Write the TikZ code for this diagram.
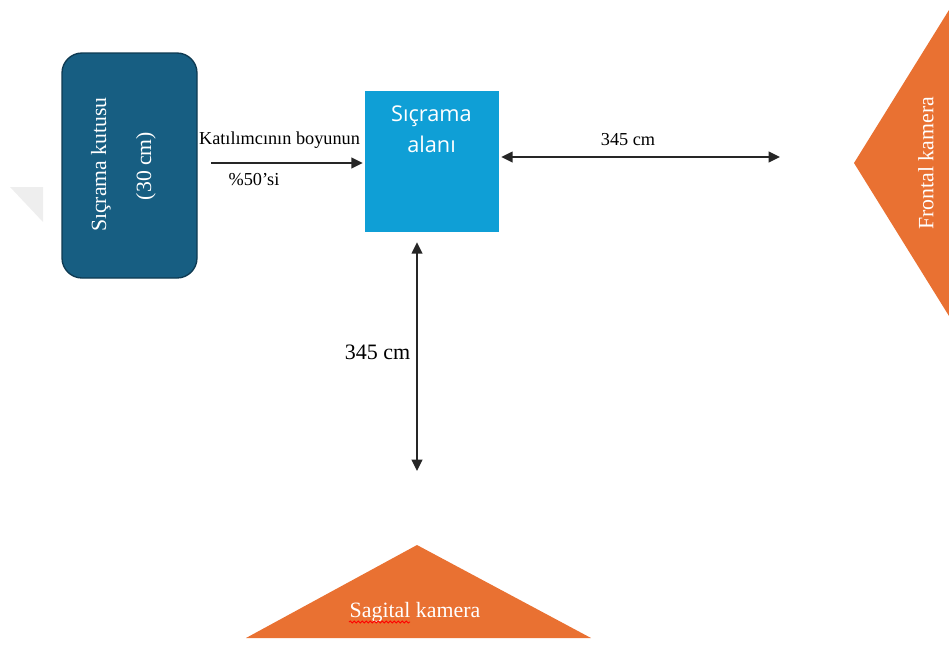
\documentclass[tikz,border=0pt]{standalone}
\usepackage{fontspec}
\setmainfont{Liberation Serif}
\newfontfamily\sansf{Open Sans}
\usetikzlibrary{arrows.meta,calc,decorations.pathmorphing}
\definecolor{boxdark}{HTML}{175E82}
\definecolor{boxedge}{HTML}{0E3A52}
\definecolor{areablue}{HTML}{0F9FD6}
\definecolor{camorange}{HTML}{E97132}
\definecolor{wmgrey}{HTML}{EEEEEE}
\begin{document}
\begin{tikzpicture}[x=0.75pt,y=-0.75pt,
  lbl/.style={font=\fontsize{13.7}{16}\selectfont, inner sep=0pt},
  tip/.style={Triangle[length=8.5pt,width=8pt]},
  dim/.style={draw=black!85, line width=1.2pt, -{Triangle[length=8.5pt,width=8pt]}},
  ddim/.style={draw=black!85, line width=1.2pt, {Triangle[length=8.5pt,width=8pt]}-{Triangle[length=8.5pt,width=8pt]}},
  camtext/.style={text=white, font=\fontsize{16.4}{19}\selectfont, inner sep=0pt},
  boxtext/.style={text=white, font=\fontsize{16.3}{19}\selectfont, inner sep=0pt, rotate=90}]
\useasboundingbox (0,0) rectangle (949,644);
% faint watermark
\fill[wmgrey] (10,187) -- (43,187) -- (43,222) -- cycle;
% jump box
\node[draw=boxedge, line width=1pt, fill=boxdark, rounded corners=15pt,
  minimum width=101.25pt, minimum height=168.75pt, inner sep=0pt] (box) at (129.5,165.5) {};
\node[boxtext] (boxt1) at (101,164.5) {Sıçrama kutusu};
\node[boxtext] (boxt2) at (146,166) {(30 cm)};
% jump area
\node[fill=areablue, minimum width=100.5pt, minimum height=105.75pt, inner sep=0pt] (sq) at (432,161.5) {};
\node[text=white, font=\sansf\fontsize{16.3}{23.5}\selectfont, align=center, inner sep=0pt] (sqt) at (431.5,129.5) {Sıçrama\\alanı};
% arrow from box to area
\coordinate (aS) at (211,163);
\draw[dim] (aS) -- ($(sq.west|-aS)+(-2,0)$);
\node[lbl] (k1) at (279.5,140) {Katılımcının boyunun};
\node[lbl] (k2) at (254,180) {\%50’si};
% horizontal dimension
\coordinate (hR) at (780,157);
\draw[ddim] ($(sq.east|-hR)+(2,0)$) -- (hR);
\node[lbl] (h) at (628,140) {345 cm};
% vertical dimension
\coordinate (vB) at (417,471);
\draw[ddim] ($(sq.south-|vB)+(0,10)$) -- (vB);
\node[font=\fontsize{16.5}{19}\selectfont, inner sep=0pt] (v) at (377.5,352) {345 cm};
% frontal camera
\fill[camorange] (854,163) -- (949,10) -- (949,316) -- cycle;
\node[camtext, rotate=90] (fc) at (926,163.5) {Frontal kamera};
% sagittal camera
\fill[camorange] (417,545) -- (591,638) -- (246,638) -- cycle;
\node[camtext] (sc) at (415,612) {Sagital kamera};
\draw[red, line width=0.6pt, decorate, decoration={snake, amplitude=0.8pt, segment length=3pt}] (349,622) -- (410,622);
\end{tikzpicture}
\end{document}
